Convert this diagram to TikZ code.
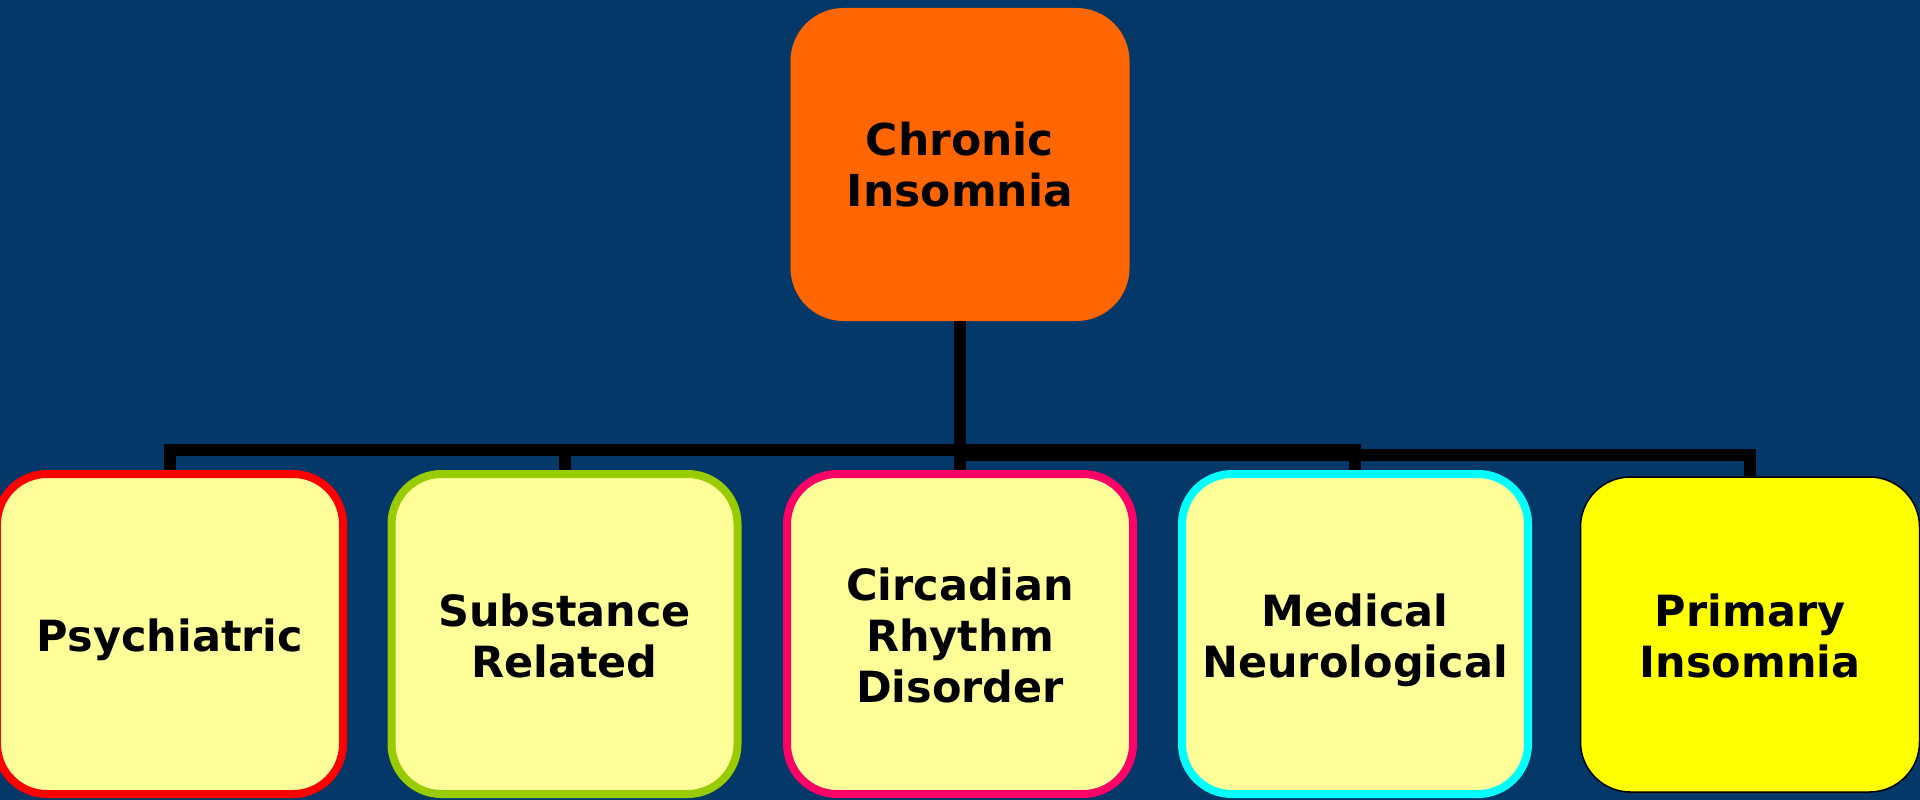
\documentclass[tikz,border=0pt]{standalone}
\usepackage{fontspec}
\setmainfont{DejaVu Sans}
\definecolor{navy}{RGB}{3,56,104}
\definecolor{rootfill}{RGB}{255,102,0}
\definecolor{kidfill}{RGB}{255,255,153}
\definecolor{edgered}{RGB}{255,0,0}
\definecolor{edgegreen}{RGB}{153,204,0}
\definecolor{edgepink}{RGB}{255,0,102}
\definecolor{edgecyan}{RGB}{0,255,255}
\definecolor{primfill}{RGB}{255,255,0}
% struts that fix the vertical placement of the category labels
\newcommand{\kidtop}{\rule{0pt}{45bp}}
\newcommand{\kidbot}{\rule[-10bp]{0pt}{10bp}}
\begin{document}
\begin{tikzpicture}[x=1bp,y=-1bp,
  rootbox/.style={rounded corners=53bp, minimum width=339bp, minimum height=313bp,
    fill=rootfill, align=center, inner sep=0pt,
    font=\bfseries\fontsize{44bp}{50.5bp}\selectfont},
  kidbox/.style={rounded corners=50bp, minimum width=346bp, minimum height=320bp,
    line width=8bp, fill=kidfill, align=center, inner sep=0pt,
    font=\bfseries\fontsize{43bp}{51bp}\selectfont},
  primbox/.style={kidbox, line width=1.5bp, draw=black, fill=primfill,
    minimum width=339bp, minimum height=315bp},
  conn/.style={line width=12bp, draw=black, line join=miter, line cap=butt}]
\useasboundingbox (0,0) rectangle (1920,800);
\fill[navy] (0,0) rectangle (1920,800);

% root and the five categories
\node[rootbox] (root) at (960,164.5) {Chronic\\Insomnia};
\node[kidbox, draw=edgered]   (psy)  at (170,634)   {\kidtop Psychiatric\kidbot};
\node[kidbox, draw=edgegreen] (subs) at (564.5,634) {\kidtop Substance\\Related\kidbot};
\node[kidbox, draw=edgepink]  (circ) at (960,634)   {\kidtop Circadian\\Rhythm\\Disorder\kidbot};
\node[kidbox, draw=edgecyan]  (med)  at (1355,634)  {\kidtop Medical\\Neurological\kidbot};
\node[primbox]                (prim) at (1750,634.5) {\kidtop Primary\\Insomnia\kidbot};

% connector buses
\coordinate (busA) at (960,450);
\coordinate (busB) at (960,455);

\draw[conn] (root.south) -- (busA) -| (psy.north);
\draw[conn] (root.south) -- (busA) -| (subs.north);
\draw[conn] (root.south) -- (circ.north);
\draw[conn] (root.south) -- (busA) -| (med.north);
\draw[conn] (root.south) -- (busB) -| (prim.north);
\end{tikzpicture}
\end{document}
